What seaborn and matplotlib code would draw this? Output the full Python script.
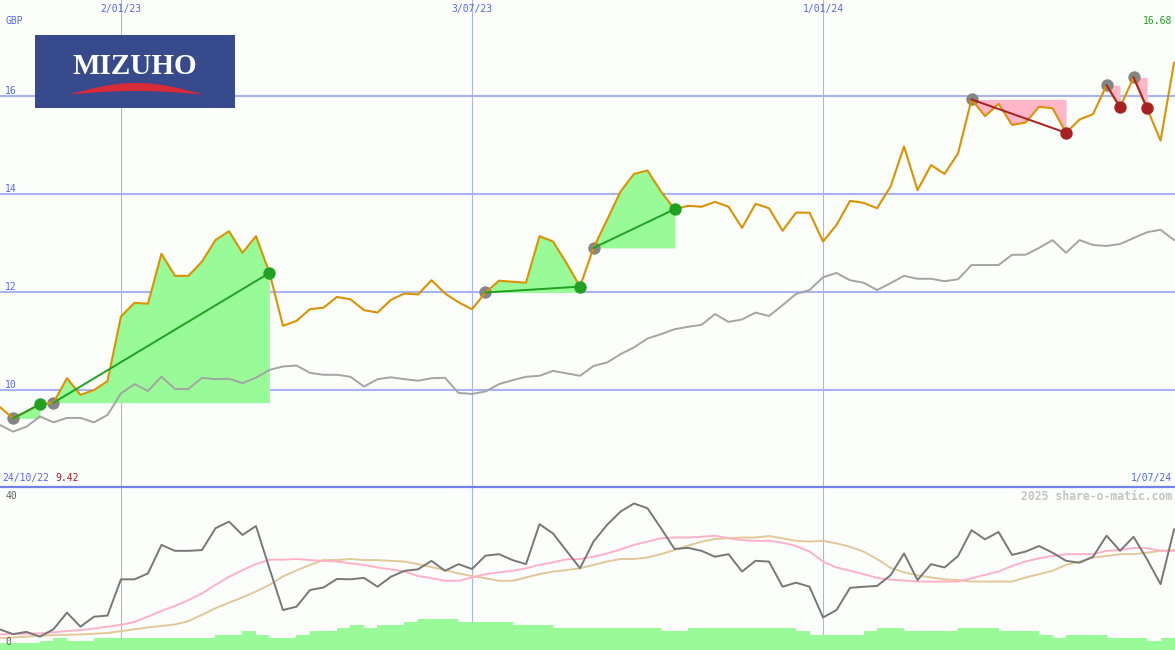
import numpy as np
import pandas as pd
import matplotlib
matplotlib.use('Agg')
import matplotlib.pyplot as plt
import seaborn as sns

# weekly data, 31/10/22 .. 1/07/24
price = [9.66, 9.42, 9.56, 9.71, 9.74, 10.24, 9.90, 10.00, 10.18, 11.50,
         11.78, 11.76, 12.78, 12.33, 12.33, 12.62, 13.06, 13.24, 12.80, 13.14,
         12.39, 11.31, 11.41, 11.65, 11.68, 11.90, 11.85, 11.63, 11.58, 11.84,
         11.97, 11.95, 12.24, 11.97, 11.79, 11.65, 11.99, 12.23, 12.21, 12.19,
         13.14, 13.03, 12.59, 12.11, 12.90, 13.47, 14.05, 14.41, 14.48, 14.05,
         13.69, 13.76, 13.74, 13.84, 13.74, 13.31, 13.80, 13.71, 13.25, 13.62,
         13.62, 13.03, 13.37, 13.86, 13.82, 13.71, 14.15, 14.97, 14.08, 14.59,
         14.41, 14.83, 15.93, 15.59, 15.84, 15.41, 15.46, 15.78, 15.75, 15.25,
         15.52, 15.63, 16.22, 15.77, 16.38, 15.75, 15.09, 16.68]

bench = [9.29, 9.15, 9.25, 9.46, 9.34, 9.43, 9.43, 9.34, 9.49, 9.93,
         10.12, 9.98, 10.27, 10.02, 10.02, 10.25, 10.22, 10.23, 10.14, 10.25,
         10.41, 10.48, 10.50, 10.35, 10.31, 10.31, 10.27, 10.07, 10.22, 10.26,
         10.22, 10.19, 10.24, 10.25, 9.94, 9.92, 9.97, 10.12, 10.20, 10.27,
         10.29, 10.39, 10.34, 10.29, 10.49, 10.56, 10.73, 10.87, 11.05, 11.14,
         11.24, 11.29, 11.33, 11.55, 11.39, 11.44, 11.58, 11.51, 11.73, 11.96,
         12.04, 12.30, 12.39, 12.24, 12.19, 12.04, 12.18, 12.33, 12.27, 12.27,
         12.22, 12.26, 12.55, 12.55, 12.55, 12.76, 12.76, 12.90, 13.06, 12.80,
         13.06, 12.96, 12.94, 12.98, 13.10, 13.22, 13.27, 13.06]

momentum = [5.6, 4.3, 4.9, 3.6, 5.6, 10.1, 6.3, 9.0, 9.3, 19.1,
            19.1, 20.7, 28.4, 26.8, 26.8, 27.0, 32.9, 34.7, 31.1, 33.5,
            22.0, 10.8, 11.7, 16.2, 16.9, 19.2, 19.1, 19.5, 17.1, 19.8,
            21.4, 21.8, 24.1, 21.4, 23.2, 21.9, 25.5, 25.9, 24.3, 23.2,
            34.0, 31.5, 26.8, 22.1, 29.3, 33.8, 37.4, 39.6, 38.3, 32.9,
            27.3, 27.6, 26.8, 25.2, 25.9, 21.2, 24.1, 23.9, 17.1, 18.2,
            17.1, 8.8, 10.8, 16.8, 17.1, 17.3, 20.2, 26.1, 18.9, 23.2,
            22.3, 25.4, 32.4, 29.9, 31.9, 25.7, 26.6, 28.1, 26.3, 24.1,
            23.6, 25.2, 30.9, 26.8, 30.6, 24.5, 17.8, 32.6]

avg_fast = [4.2, 4.3, 4.4, 4.5, 4.8, 5.1, 5.4, 5.8, 6.3, 6.8,
            7.6, 9.0, 10.6, 11.9, 13.5, 15.3, 17.6, 19.8, 21.6, 23.2,
            24.4, 24.4, 24.6, 24.3, 24.1, 23.9, 23.4, 23.0, 22.3, 21.8,
            21.2, 20.0, 19.4, 18.7, 18.7, 19.6, 20.5, 21.0, 21.4, 22.1,
            23.0, 23.7, 24.5, 24.6, 25.2, 26.1, 27.2, 28.4, 29.3, 30.2,
            30.4, 30.4, 30.6, 30.9, 30.2, 29.7, 29.5, 29.5, 29.0, 28.1,
            26.6, 23.9, 22.3, 21.4, 20.5, 19.5, 19.0, 18.8, 18.5, 18.5,
            18.5, 18.5, 19.4, 20.3, 21.2, 22.7, 23.9, 24.8, 25.4, 25.9,
            25.9, 25.9, 26.8, 27.0, 27.6, 27.5, 26.8, 26.8]

avg_slow = [3.2, 3.4, 3.6, 3.9, 4.0, 4.1, 4.2, 4.4, 4.6, 5.1,
            5.6, 6.1, 6.5, 6.9, 7.8, 9.5, 11.3, 12.8, 14.2, 15.8,
            17.6, 19.9, 21.5, 23.0, 24.3, 24.3, 24.6, 24.3, 24.3, 24.1,
            23.9, 23.2, 22.4, 21.6, 20.7, 20.0, 19.4, 18.7, 18.7, 19.6,
            20.5, 21.2, 21.6, 22.1, 23.0, 23.9, 24.6, 24.6, 25.0, 25.9,
            27.0, 28.2, 29.3, 30.0, 30.2, 30.4, 30.4, 30.8, 30.2, 29.5,
            29.3, 29.5, 28.8, 27.9, 26.6, 24.6, 22.2, 21.0, 20.2, 19.6,
            19.1, 18.9, 18.5, 18.5, 18.5, 18.5, 19.6, 20.5, 21.4, 23.0,
            23.9, 25.0, 25.4, 25.9, 25.9, 26.3, 26.8, 27.0]

volume = [1.8, 1.8, 1.8, 2.4, 3.3, 2.4, 2.4, 3.3, 3.3, 3.3,
          3.3, 3.3, 3.3, 3.3, 3.3, 3.3, 4.05, 4.05, 5.1, 4.05,
          3.3, 3.3, 4.05, 5.1, 5.1, 6.0, 6.8, 6.0, 6.8, 6.8,
          7.5, 8.4, 8.4, 8.4, 7.5, 7.5, 7.5, 7.5, 6.8, 6.8,
          6.8, 6.0, 6.0, 6.0, 6.0, 6.0, 6.0, 6.0, 6.0, 5.1,
          5.1, 6.0, 6.0, 6.0, 6.0, 6.0, 6.0, 6.0, 6.0, 5.1,
          4.05, 4.05, 4.05, 4.05, 5.1, 6.0, 6.0, 5.1, 5.1, 5.1,
          5.1, 6.0, 6.0, 6.0, 5.1, 5.1, 5.1, 4.05, 3.3, 4.05,
          4.05, 4.05, 3.3, 3.3, 3.3, 2.4, 3.3, 3.3]

# trade signals (week numbers, 1 = first week)
buy_in = [2, 5, 37, 45]
buy_out = [4, 21, 44, 51]
sell_in = [73, 83, 85]
sell_out = [80, 84, 86]

grid_dates = ['2023-01-02', '2023-07-03', '2024-01-01']
grid_labels = ['2/01/23', '3/07/23', '1/01/24']
price_levels = [10, 12, 14, 16]

dates = pd.date_range('2022-10-31', periods=len(price), freq='7D')
df = pd.DataFrame({'date': dates, 'price': price, 'bench': bench,
                   'momentum': momentum, 'fast': avg_fast, 'slow': avg_slow,
                   'volume': volume})

W, H = 1175, 650
bg = '#fcfefc'
grid_c = '#a8b4f2'
blue_txt = '#5565ee'
orange = '#db9200'
green = '#22a022'
red = '#a82020'
mono = 'DejaVu Sans Mono'

fig = plt.figure(figsize=(W / 100, H / 100), dpi=100)
fig.patch.set_facecolor(bg)
split = (H - 487) / H
ax = fig.add_axes([0, split, 1, 1 - split])
axb = fig.add_axes([0, 0, 1, split])

t0 = pd.Timestamp('2022-10-24')
x0 = t0 + pd.Timedelta(weeks=1.04)
x1 = t0 + pd.Timedelta(weeks=88.07)

# --- price panel ---
for a, b in zip(buy_in, buy_out):
    seg = df.iloc[a - 1:b]
    ax.fill_between(seg['date'], seg['price'], price[a - 1], color='#98fb98', lw=0, zorder=1)
for a, b in zip(sell_in, sell_out):
    seg = df.iloc[a - 1:b]
    ax.fill_between(seg['date'], seg['price'], price[a - 1], color='#ffb6c8', lw=0, zorder=1)

sns.lineplot(data=df, x='date', y='bench', ax=ax, color='#a4a4a4', lw=1.4, zorder=2)
entries = df.iloc[[i - 1 for i in buy_in + sell_in]]
sns.scatterplot(data=entries, x='date', y='price', ax=ax, color='#858585', s=80,
                linewidth=0, zorder=2.5)
sns.lineplot(data=df, x='date', y='price', ax=ax, color=orange, lw=1.5, zorder=3)

for a, b in zip(buy_in, buy_out):
    seg = df.iloc[[a - 1, b - 1]]
    sns.lineplot(data=seg, x='date', y='price', ax=ax, color=green, lw=1.4, zorder=4)
for a, b in zip(sell_in, sell_out):
    seg = df.iloc[[a - 1, b - 1]]
    sns.lineplot(data=seg, x='date', y='price', ax=ax, color=red, lw=1.4, zorder=4)
sns.scatterplot(data=df.iloc[[i - 1 for i in buy_out]], x='date', y='price', ax=ax,
                color=green, s=80, linewidth=0, zorder=5)
sns.scatterplot(data=df.iloc[[i - 1 for i in sell_out]], x='date', y='price', ax=ax,
                color=red, s=80, linewidth=0, zorder=5)

for lv in price_levels:
    ax.axhline(lv, color=grid_c, lw=1.5, zorder=0)
    ax.text(5 / W, lv + 0.1, str(lv), transform=ax.get_yaxis_transform(),
            va='center', ha='left', color=blue_txt, fontsize=7, family=mono)
for d, lab in zip(grid_dates, grid_labels):
    ax.axvline(pd.Timestamp(d), color=grid_c, lw=0.8, zorder=0)
    axb.axvline(pd.Timestamp(d), color=grid_c, lw=0.8, zorder=0)
    ax.text(pd.Timestamp(d), 1 - 9 / 487, lab, transform=ax.get_xaxis_transform(),
            va='center', ha='center', color=blue_txt, fontsize=7, family=mono)

ax.set_ylim(8.02, 17.96)

# --- lower panel ---
axb.bar(df['date'], df['volume'], width=7, align='edge', color='#98fb98', lw=0, zorder=1)
sns.lineplot(data=df, x='date', y='slow', ax=axb, color='#e2c898', lw=1.4, zorder=2)
sns.lineplot(data=df, x='date', y='fast', ax=axb, color='#ffb2c6', lw=1.4, zorder=2)
sns.lineplot(data=df, x='date', y='momentum', ax=axb, color='#777777', lw=1.4, zorder=3)
axb.set_ylim(0, 44.05)
axb.text(5 / W, 41.6, '40', transform=axb.get_yaxis_transform(), va='center',
         ha='left', color='#606060', fontsize=7, family=mono)
axb.text(5 / W, 2.2, '0', transform=axb.get_yaxis_transform(), va='center',
         ha='left', color='#606060', fontsize=7, family=mono)

for a in (ax, axb):
    a.set_facecolor(bg)
    a.set_xlim(x0, x1)
    a.set_xticks([])
    a.set_yticks([])
    a.set_xlabel('')
    a.set_ylabel('')
    for s in a.spines.values():
        s.set_visible(False)
axb.spines['top'].set_visible(True)
axb.spines['top'].set_color('#7282ea')
axb.spines['top'].set_linewidth(1.6)

# labels
fig.text(5 / W, 1 - 21 / H, 'GBP', va='center', ha='left', color=blue_txt, fontsize=7, family=mono)
fig.text(1172 / W, 1 - 21 / H, f'{price[-1]:.2f}', va='center', ha='right', color=green,
         fontsize=7, family=mono)
fig.text(2 / W, 1 - 478 / H, '24/10/22', va='center', ha='left', color=blue_txt, fontsize=7, family=mono)
fig.text(55 / W, 1 - 478 / H, f'{min(price):.2f}', va='center', ha='left', color=red,
         fontsize=7, family=mono)
fig.text(1172 / W, 1 - 478 / H, '1/07/24', va='center', ha='right', color=blue_txt,
         fontsize=7, family=mono)
fig.text(1172 / W, 1 - 496 / H, '2025 share-o-matic.com', va='center', ha='right',
         color='#c4c4c4', fontsize=8.3, family=mono, weight='bold')

# logo
lg = fig.add_axes([35 / W, 1 - 108 / H, 200 / W, 73 / H])
lg.set_facecolor('#364a8c')
lg.set_xlim(0, 1)
lg.set_ylim(0, 1)
lg.set_xticks([])
lg.set_yticks([])
for s in lg.spines.values():
    s.set_visible(False)
lg.text(0.5, 0.57, 'MIZUHO', ha='center', va='center', color='white',
        fontsize=21, family='Liberation Serif', weight='bold')
sx = np.linspace(0.165, 0.84, 100)
arc = np.sin(np.pi * (sx - 0.165) / 0.675)
lg.fill_between(sx, 0.19 + 0.05 * arc, 0.19 + 0.16 * arc, color='#d82b38', lw=0)

fig.savefig('out.png', dpi=100, facecolor=bg)
